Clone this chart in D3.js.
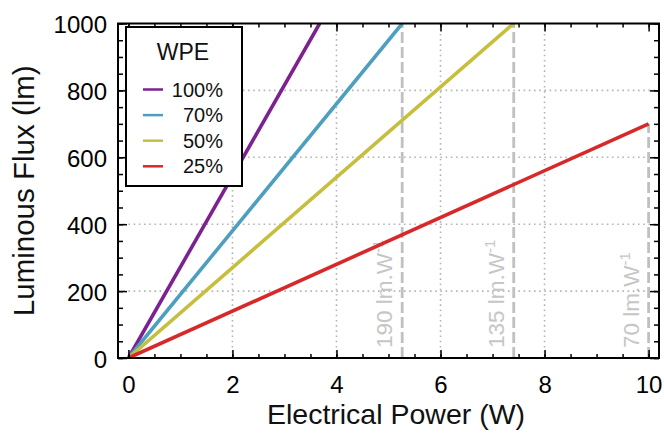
<!DOCTYPE html>
<html>
<head>
<meta charset="utf-8">
<script src="https://cdn.jsdelivr.net/npm/d3@7"></script>
<style>
  html, body { margin: 0; padding: 0; background: #fff; }
  svg { display: block; font-family: "Liberation Sans", Arial, sans-serif; }
</style>
</head>
<body>
<svg id="chart" width="664" height="441"></svg>
<script>
// Wall-plug efficiency series and their luminous efficacy (lm per W)
const wpeLabels = ["100%", "70%", "50%", "25%"];
const efficacy = [272, 190, 135, 70];
const seriesColors = ["#7b2190", "#4d9fbf", "#c6bf3e", "#d7292a"];

// Efficacy markers (vertical dashed lines) for the lower three series
const markerSeries = [1, 2, 3];
const markerText = ["190", "135", "70"];

// Axis ticks
const xMajorTicks = [0, 2, 4, 6, 8, 10];
const xMinorTicks = d3.range(0, 10.01, 0.5);
const yMajorTicks = [0, 200, 400, 600, 800, 1000];
const yMinorTicks = d3.range(0, 1001, 50);
const xGrid = [2, 4, 6, 8];
const yGrid = [200, 400, 600, 800];

const xMax = 10, yMax = 1000;

const svg = d3.select("#chart");
const L = 118, R = 659, T = 23.5, B = 358;

const x = d3.scaleLinear().domain([-0.2, 10.2]).range([L, R]);
const y = d3.scaleLinear().domain([0, 1000]).range([B, T]);

svg.append("defs").append("clipPath").attr("id", "plot-clip")
  .append("rect").attr("x", L).attr("y", T).attr("width", R - L).attr("height", B - T);

// dotted grid
const grid = svg.append("g").attr("stroke", "#b4b4b4").attr("stroke-width", 1.6)
  .attr("stroke-dasharray", "1.6,3.6");
grid.selectAll("line.gx").data(xGrid).join("line").attr("class", "gx")
  .attr("x1", d => x(d)).attr("x2", d => x(d)).attr("y1", T).attr("y2", B);
grid.selectAll("line.gy").data(yGrid).join("line").attr("class", "gy")
  .attr("x1", L).attr("x2", R).attr("y1", d => y(d)).attr("y2", d => y(d));

// where each series leaves the plot (top edge or right edge)
const endPower = e => Math.min(xMax, yMax / e);

// dashed efficacy markers
const markers = markerSeries.map((s, i) => ({
  p: endPower(efficacy[s]),
  f: Math.min(yMax, efficacy[s] * xMax),
  label: markerText[i]
}));
const mg = svg.append("g");
mg.selectAll("line").data(markers).join("line")
  .attr("x1", d => x(d.p)).attr("x2", d => x(d.p))
  .attr("y1", y(0)).attr("y2", d => y(d.f))
  .attr("stroke", "#c0c0c0").attr("stroke-width", 2.8)
  .attr("stroke-dasharray", "11,4");

const lbl = mg.selectAll("text").data(markers).join("text")
  .attr("transform", d => `translate(${x(d.p) - 10},348) rotate(-90)`)
  .attr("fill", "#c6c6c6").attr("font-size", 22.5);
lbl.append("tspan").text(d => d.label + " lm.W");
lbl.append("tspan").attr("font-size", 15).attr("dy", -9).text("-1");

// series lines
const line = d3.line().x(d => x(d[0])).y(d => y(d[1]));
svg.append("g").attr("clip-path", "url(#plot-clip)")
  .selectAll("path").data(efficacy).join("path")
  .attr("d", e => line([[0, 0], [endPower(e), e * endPower(e)]]))
  .attr("fill", "none")
  .attr("stroke", (d, i) => seriesColors[i])
  .attr("stroke-width", 3.6);

// axes with inward ticks on all four sides
function styleAxis(g) {
  g.select(".domain").remove();
  g.selectAll(".tick line").attr("stroke", "#000").attr("stroke-width", 1.5);
  g.selectAll(".tick text").attr("fill", "#000").attr("font-size", 24)
    .attr("font-family", "'Liberation Sans', Arial, sans-serif");
}
svg.append("g").attr("transform", `translate(0,${B})`)
  .call(d3.axisBottom(x).tickValues(xMinorTicks).tickSize(-4).tickFormat(""))
  .call(styleAxis);
svg.append("g").attr("transform", `translate(0,${B})`)
  .call(d3.axisBottom(x).tickValues(xMajorTicks).tickSize(-8).tickPadding(18).tickFormat(d3.format("d")))
  .call(styleAxis);
svg.append("g").attr("transform", `translate(0,${T})`)
  .call(d3.axisTop(x).tickValues(xMinorTicks).tickSize(-4).tickFormat(""))
  .call(styleAxis);
svg.append("g").attr("transform", `translate(0,${T})`)
  .call(d3.axisTop(x).tickValues(xMajorTicks).tickSize(-8).tickFormat(""))
  .call(styleAxis);
svg.append("g").attr("transform", `translate(${L},0)`)
  .call(d3.axisLeft(y).tickValues(yMinorTicks).tickSize(-5).tickFormat(""))
  .call(styleAxis);
svg.append("g").attr("transform", `translate(${L},0)`)
  .call(d3.axisLeft(y).tickValues(yMajorTicks).tickSize(-9).tickPadding(11).tickFormat(d3.format("d")))
  .call(styleAxis)
  .call(g => g.selectAll(".tick text").attr("dy", "0.38em"));
svg.append("g").attr("transform", `translate(${R},0)`)
  .call(d3.axisRight(y).tickValues(yMinorTicks).tickSize(-5).tickFormat(""))
  .call(styleAxis);
svg.append("g").attr("transform", `translate(${R},0)`)
  .call(d3.axisRight(y).tickValues(yMajorTicks).tickSize(-9).tickFormat(""))
  .call(styleAxis);

// frame
svg.append("rect").attr("x", L).attr("y", T).attr("width", R - L).attr("height", B - T)
  .attr("fill", "none").attr("stroke", "#000").attr("stroke-width", 2);

// axis titles
svg.append("text").attr("x", 396).attr("y", 424).attr("text-anchor", "middle")
  .attr("font-size", 28.5).attr("fill", "#111").text("Electrical Power (W)");
svg.append("text").attr("transform", `translate(34,${(T + B) / 2}) rotate(-90)`)
  .attr("text-anchor", "middle").attr("font-size", 29.5).attr("fill", "#111")
  .text("Luminous Flux (lm)");

// legend
const lg = svg.append("g");
lg.append("rect").attr("x", 126).attr("y", 27).attr("width", 116).attr("height", 159)
  .attr("fill", "#fff").attr("stroke", "#000").attr("stroke-width", 2);
lg.append("text").attr("x", 183).attr("y", 60).attr("text-anchor", "middle")
  .attr("font-size", 23).attr("fill", "#111").text("WPE");
const items = lg.selectAll("g.item").data(wpeLabels).join("g").attr("class", "item")
  .attr("transform", (d, i) => `translate(0,${89.5 + i * 25.6})`);
items.append("line").attr("x1", 143).attr("x2", 163)
  .attr("stroke", (d, i) => seriesColors[i]).attr("stroke-width", 2.5);
items.append("text").attr("x", 223).attr("y", 7).attr("text-anchor", "end")
  .attr("font-size", 20).attr("fill", "#111").text(d => d);
</script>
</body>
</html>
